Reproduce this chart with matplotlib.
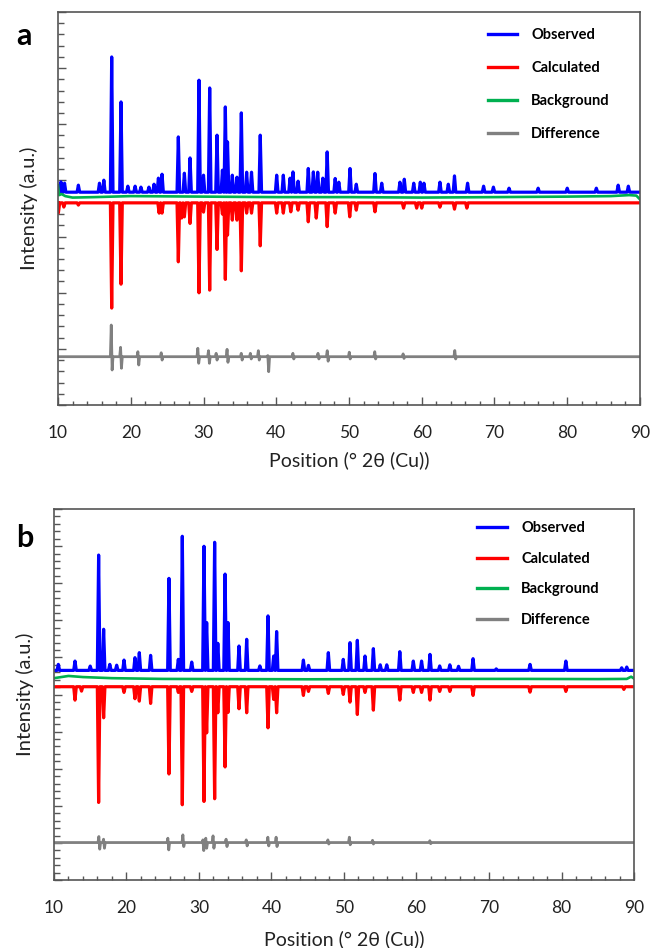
#!/usr/bin/env python3
# -*- encoding: utf-8 -*-

import matplotlib
matplotlib.use('Agg')
import matplotlib.pyplot as plt
from matplotlib.ticker import MultipleLocator

plt.rcParams['font.family'] = ['Lato', 'DejaVu Sans']

# ---- panel a (arbitrary intensity units) ----
a_obs_base = 3790
a_obs_pos = [10.4, 10.9, 12.8, 15.7, 16.3, 17.38, 18.66, 19.6, 20.6, 21.4, 22.5, 23.2, 23.8, 24.3,
             26.54, 27.37, 28.15, 29.38, 30.0, 30.85, 31.86, 32.6, 33.0, 33.3, 33.96, 34.6, 35.2,
             35.93, 36.6, 37.8, 40.06, 40.97, 41.9, 42.3, 43.0, 44.4, 45.1, 45.7, 46.4, 47.0, 48.1,
             48.6, 50.14, 51.0, 53.57, 54.5, 57.0, 57.6, 58.9, 59.8, 60.3, 62.5, 63.65, 64.5, 66.3,
             68.5, 69.85, 72.0, 76.0, 80.0, 84.0, 87.0, 88.4]
a_obs_hgt = [183, 160, 125, 160, 214, 2408, 1607, 107, 107, 90, 90, 142, 250, 320,
             984, 338, 610, 1994, 303, 1856, 1015, 392, 1518, 895, 303, 267, 1412,
             356, 356, 1015, 303, 303, 250, 361, 196, 422, 361, 356, 250, 717, 244,
             178, 422, 142, 333, 160, 178, 231, 160, 178, 160, 178, 142, 290, 160,
             107, 90, 71, 71, 71, 71, 125, 107]

a_calc_base = 3600
a_calc_pos = [10.05, 10.8, 12.8, 17.38, 18.66, 23.9, 24.3, 26.54, 27.0, 27.37, 28.15, 29.38, 30.0,
              30.85, 31.86, 32.6, 33.0, 33.3, 33.96, 34.6, 35.2, 35.93, 36.6, 37.8, 40.06, 40.97,
              42.0, 43.0, 44.4, 45.5, 47.0, 48.1, 50.1, 51.0, 53.57, 57.5, 59.3, 60.0, 62.5, 64.5,
              66.2]
a_calc_dep = [180, 75, 40, 1874, 1448, 183, 183, 1050, 270, 250, 367, 1602, 165,
              1554, 830, 200, 1363, 575, 308, 308, 1210, 183, 183, 765, 183, 183,
              160, 130, 338, 272, 424, 183, 249, 130, 160, 94, 94, 94, 77, 112,
              94]

a_bg_x = [10.0, 10.15, 10.5, 11.0, 12.0, 15.0, 20.0, 30.0, 40.0, 50.0, 60.0, 70.0, 80.0, 86.0, 88.5, 89.5, 90.0]
a_bg_y = [3916, 3738, 3756, 3720, 3694, 3702, 3720, 3711, 3702, 3702, 3694, 3702, 3711, 3720, 3738, 3729, 3661]

a_diff_base = 860
a_diff_pos = [17.38, 18.66, 21.04, 24.25, 29.28, 30.75, 31.8, 33.3, 35.25, 36.5, 37.6, 38.9,
              42.35, 45.8, 47.07, 50.1, 53.6, 57.5, 64.6]
a_diff_up = [564, 167, 89, 70, 150, 107, 60, 131, 60, 60, 107, 20, 60, 60, 107, 80, 89, 50, 110]
a_diff_dn = [237, 206, 148, 60, 117, 117, 60, 100, 60, 40, 60, 267, 40, 40, 80, 40, 40, 30, 40]

# ---- panel b ----
b_obs_base = 5650
b_obs_pos = [10.6, 12.9, 15.0, 16.16, 16.85, 17.7, 18.65, 19.66, 21.17, 21.77, 23.33, 25.86, 27.15,
             27.7, 29.0, 30.69, 31.06, 32.16, 32.6, 33.6, 34.0, 35.52, 36.58, 38.4, 39.52, 40.3,
             40.71, 44.4, 45.1, 47.84, 49.9, 50.83, 51.84, 52.9, 54.05, 55.0, 55.9, 57.7, 59.56,
             60.7, 61.86, 63.2, 64.6, 65.8, 67.8, 71.0, 75.66, 80.6, 88.3, 89.0]
b_obs_hgt = [162, 251, 116, 3108, 1108, 162, 140, 278, 343, 478, 405, 2479, 297,
             3614, 224, 3344, 1289, 3452, 730, 2595, 1289, 657, 838, 120, 1468, 387,
             1046, 278, 135, 478, 297, 748, 811, 387, 586, 150, 150, 505, 251,
             251, 432, 120, 150, 110, 316, 40, 162, 251, 70, 90]

b_calc_base = 5210
b_calc_pos = [12.9, 13.8, 16.16, 16.85, 19.66, 21.17, 21.77, 23.33, 25.86, 27.15, 27.7, 29.0, 30.69,
              31.06, 32.16, 32.6, 33.6, 34.0, 35.52, 36.58, 39.52, 40.3, 40.71, 44.4, 45.1, 47.84,
              49.9, 50.83, 51.84, 52.9, 54.05, 57.7, 59.56, 60.7, 61.86, 63.2, 64.6, 67.8, 75.66,
              80.6, 88.6]
b_calc_dep = [362, 119, 3119, 838, 154, 324, 389, 451, 2352, 154, 3181, 127, 3092,
              1243, 3019, 703, 2162, 695, 595, 703, 1108, 343, 703, 235, 127, 181,
              208, 416, 749, 154, 632, 362, 154, 154, 362, 127, 127, 235, 146,
              127, 73]

b_bg_x = [10.0, 12.0, 14.0, 18.0, 25.0, 35.0, 45.0, 55.0, 65.0, 75.0, 85.0, 89.0, 89.6, 90.0]
b_bg_y = [5440, 5500, 5470, 5440, 5420, 5415, 5410, 5415, 5420, 5420, 5415, 5420, 5480, 5430]

b_diff_base = 1010
b_diff_pos = [16.25, 16.9, 25.77, 27.84, 30.6, 31.0, 32.0, 33.8, 36.58, 39.56, 40.7, 47.84, 50.8, 54.0, 61.9]
b_diff_up = [162, 90, 117, 207, 72, 117, 180, 90, 72, 144, 144, 72, 144, 60, 50]
b_diff_dn = [178, 153, 198, 108, 216, 153, 153, 108, 90, 90, 108, 40, 60, 40, 30]

LABELS = ['Observed', 'Calculated', 'Background', 'Difference']
COLORS = ['#0000ff', '#ff0000', '#00b050', '#808080']
SPINE = '#555555'


def peaks(base, pos, amp, sign=1, w=0.18):
    xs, ys = [10.0], [base]
    for p, h in sorted(zip(pos, amp)):
        xs += [p - w, p, p + w]
        ys += [base, base + sign * h, base]
    xs.append(90.0)
    ys.append(base)
    return xs, ys


def diff(base, pos, up, dn, w=0.18):
    xs, ys = [10.0], [base]
    for p, u, d in sorted(zip(pos, up, dn)):
        xs += [p - w, p - w / 3, p + w / 3, p + w]
        ys += [base, base + u, base - d, base]
    xs.append(90.0)
    ys.append(base)
    return xs, ys


def panel(ax, obs, calc, bg, dif, ymax, legend_anchor, spacing, xlabelpad):
    ax.plot(*obs, color=COLORS[0], lw=2.3, label=LABELS[0])
    ax.plot(*calc, color=COLORS[1], lw=2.3, label=LABELS[1])
    ax.plot(*bg, color=COLORS[2], lw=1.9, label=LABELS[2])
    ax.plot(*dif, color=COLORS[3], lw=2.0, label=LABELS[3])

    ax.set_xlim(10, 90)
    ax.set_ylim(0, ymax)
    ax.xaxis.set_major_locator(MultipleLocator(10))
    ax.xaxis.set_minor_locator(MultipleLocator(2))
    ax.yaxis.set_major_locator(MultipleLocator(1000))
    ax.yaxis.set_minor_locator(MultipleLocator(200))
    ax.tick_params(axis='both', which='both', direction='in', color=SPINE, top=False, right=False)
    ax.tick_params(axis='x', which='major', length=6, width=1, pad=14.5, labelsize=12.5, labelcolor='#222222')
    ax.tick_params(axis='x', which='minor', length=3, width=1)
    ax.tick_params(axis='y', which='major', length=6, width=1, labelleft=False)
    ax.tick_params(axis='y', which='minor', length=4, width=1)
    for s in ax.spines.values():
        s.set_color(SPINE)
        s.set_linewidth(1.2)

    ax.set_xlabel('Position (° 2θ (Cu))', fontsize=14, labelpad=xlabelpad, color='#222222')
    ax.set_ylabel('Intensity (a.u.)', fontsize=14.5, labelpad=11, color='#222222')

    leg = ax.legend(loc='upper left', bbox_to_anchor=legend_anchor, frameon=False,
                    handlelength=2.0, handletextpad=1.0, labelspacing=spacing,
                    borderpad=0, borderaxespad=0, prop={'weight': 'bold', 'size': 10.5})
    for h in leg.get_lines():
        h.set_linewidth(2.4)


def plot():
    fig = plt.figure(figsize=(6.51, 9.48), dpi=100)
    ax_a = fig.add_axes([0.0891, 0.5728, 0.894, 0.4146])
    ax_b = fig.add_axes([0.0829, 0.0717, 0.891, 0.3914])

    panel(ax_a,
          peaks(a_obs_base, a_obs_pos, a_obs_hgt),
          peaks(a_calc_base, a_calc_pos, a_calc_dep, sign=-1),
          (a_bg_x, a_bg_y),
          diff(a_diff_base, a_diff_pos, a_diff_up, a_diff_dn),
          7000, (0.738, 0.96), 1.32, 7)
    panel(ax_b,
          peaks(b_obs_base, b_obs_pos, b_obs_hgt),
          peaks(b_calc_base, b_calc_pos, b_calc_dep, sign=-1),
          (b_bg_x, b_bg_y),
          diff(b_diff_base, b_diff_pos, b_diff_up, b_diff_dn),
          10000, (0.73, 0.967), 1.13, 10)

    fig.text(24 / 651, 1 - 36 / 948, 'a', fontsize=22, fontweight='bold', ha='center', va='center')
    fig.text(25 / 651, 1 - 538 / 948, 'b', fontsize=22, fontweight='bold', ha='center', va='center')

    fig.savefig('out.png', dpi=100)


if __name__ == '__main__':
    plot()
